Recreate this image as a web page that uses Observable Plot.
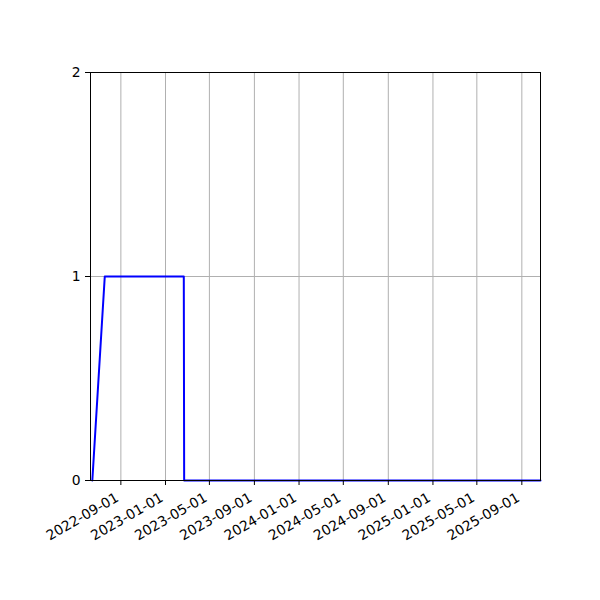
<!DOCTYPE html>
<html>
<head>
<meta charset="utf-8">
<script src="https://cdn.jsdelivr.net/npm/d3@7"></script>
<script src="https://cdn.jsdelivr.net/npm/@observablehq/plot@0.6"></script>
<style>
  html, body { margin: 0; padding: 0; background: #fff; }
  #chart svg { display: block; }
</style>
</head>
<body>
<div id="chart"></div>
<script>
const dates = ["2022-06-15", "2022-07-19", "2023-02-20", "2023-02-21", "2025-10-22"];
const values = [0, 1, 1, 0, 0];
const xTickLabels = ["2022-09-01", "2023-01-01", "2023-05-01", "2023-09-01", "2024-01-01",
                     "2024-05-01", "2024-09-01", "2025-01-01", "2025-05-01", "2025-09-01"];
const yTicks = [0, 1, 2];
const xDomain = ["2022-06-10", "2025-10-22"];

const data = dates.map((d, i) => ({date: new Date(d), value: values[i]}));
const xTicks = xTickLabels.map(d => new Date(d));
const fmt = d3.utcFormat("%Y-%m-%d");

const chart = Plot.plot({
  width: 600,
  height: 600,
  marginLeft: 90,
  marginRight: 60,
  marginTop: 72,
  marginBottom: 120,
  style: {fontFamily: "DejaVu Sans", fontSize: "13.9px", color: "#000", background: "#fff"},
  x: {type: "utc", domain: xDomain.map(d => new Date(d))},
  y: {domain: [0, 2]},
  marks: [
    Plot.gridX(xTicks, {stroke: "#b0b0b0", strokeOpacity: 1, strokeWidth: 1}),
    Plot.gridY(yTicks, {stroke: "#b0b0b0", strokeOpacity: 1, strokeWidth: 1}),
    Plot.line(data, {x: "date", y: "value", stroke: "blue", strokeWidth: 2}),
    Plot.frame({stroke: "#000", strokeWidth: 1}),
    Plot.axisX(xTicks, {tickSize: 5, tickFormat: () => "", label: null, stroke: "#000"}),
    Plot.text(xTicks, {
      x: d => d, frameAnchor: "bottom", text: d => fmt(d),
      rotate: -30, textAnchor: "end", lineAnchor: "middle",
      dx: -3.5, dy: 16, fontSize: 13.9, fill: "#000"
    }),
    Plot.axisY(yTicks, {tickSize: 5, tickPadding: 5, tickFormat: d => String(d), label: null, fill: "#000", stroke: "#000"})
  ]
});
document.getElementById("chart").appendChild(chart);
</script>
</body>
</html>
